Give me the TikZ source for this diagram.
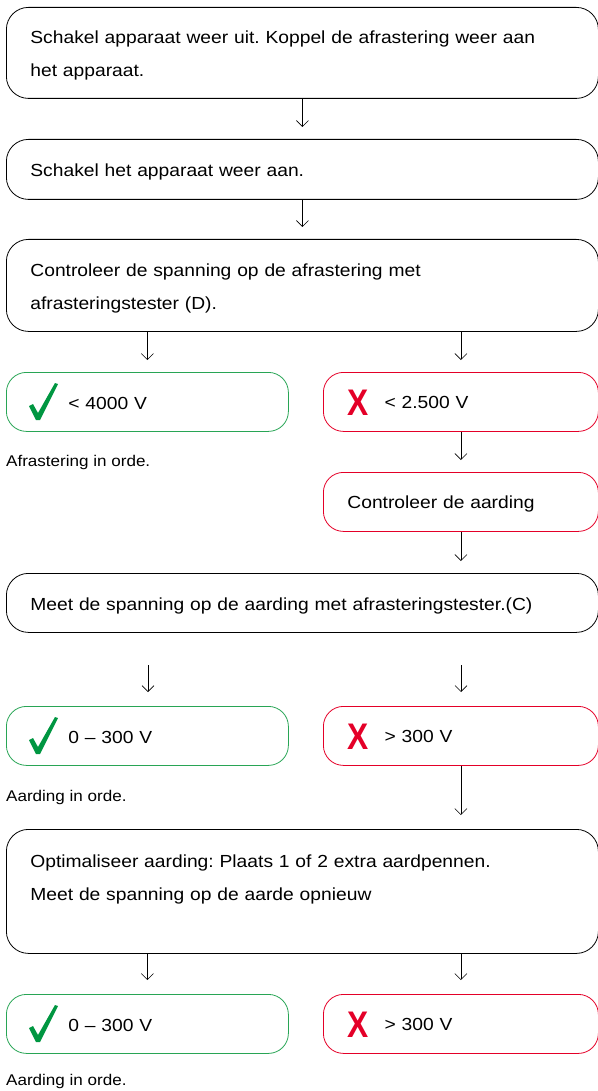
\documentclass[tikz,border=0pt]{standalone}
\usepackage{fontspec}
\setmainfont{Liberation Sans}[FakeStretch=1.1]
\usetikzlibrary{arrows.meta}
\definecolor{okgroen}{RGB}{40,165,85}
\definecolor{vinkgroen}{RGB}{0,150,65}
\definecolor{nokrood}{RGB}{228,0,40}
\frenchspacing
% vinkje in een groene uitkomst
\newcommand{\vink}[1]{\fill[vinkgroen,shift={(#1.north west)}] (23,34) -- (27,32) -- (32,41) -- (49,11) -- (52,12) -- (34,48) -- (30,48) -- cycle;}
\newcommand{\kruis}{\rule{0pt}{21pt}\raisebox{-7pt}{\color{nokrood}\fontsize{37}{37}\selectfont\bfseries\scalebox{0.78}[1]{X}}\hspace{16pt}}
\begin{document}
\begin{tikzpicture}[x=1pt,y=-1pt,
  stap/.style={draw,line width=0.8pt,rounded corners=22pt,anchor=north west,align=left,
    text width=544pt,inner xsep=24pt,inner ysep=0pt,font=\fontsize{17.5}{33}\selectfont,
    execute at begin node={\rule{0pt}{18.5pt}}},
  okbox/.style={draw=okgroen,line width=0.8pt,rounded corners=20pt,anchor=north west,align=left,
    text width=158pt,inner xsep=62pt,inner ysep=0pt,minimum height=59pt,font=\fontsize{17.5}{20}\selectfont,
    execute at begin node={\rule{0pt}{15pt}}},
  nokbox/.style={draw=nokrood,line width=0.8pt,rounded corners=20pt,anchor=north west,align=left,
    text width=227pt,inner xsep=24pt,inner ysep=0pt,minimum height=59pt,font=\fontsize{17.5}{20}\selectfont,
    execute at begin node={\rule{0pt}{16.5pt}}},
  pijl/.style={-{Straight Barb[length=6pt,width=12pt]},line width=0.6pt,shorten >=12pt},
  notitie/.style={anchor=west,inner sep=0pt,font=\fontsize{15.5}{17}\selectfont}]
\useasboundingbox (0,0) rectangle (597,1091);

\node[stap,minimum height=91pt] (uit) at (6,7) {Schakel apparaat weer uit. Koppel de afrastering weer aan\\het apparaat.};
\node[stap,minimum height=60pt] (aan) at (6,139) {Schakel het apparaat weer aan.};
\node[stap,minimum height=92pt] (meet1) at (6,239) {Controleer de spanning op de afrastering met\\afrasteringstester (D).};

\node[okbox] (ok1) at (6,372) {< 4000 V};
\node[nokbox] (nok1) at (323,372) {\kruis< 2.500 V};
\node[notitie] (orde1) at (6,462) {Afrastering in orde.};
\node[nokbox] (aarde) at (323,472) {Controleer de aarding};

\node[stap,minimum height=59pt] (meet2) at (6,573) {Meet de spanning op de aarding met afrasteringstester.(C)};
\coordinate (los1) at (148,665);
\coordinate (los2) at (461,665);

\node[okbox] (ok2) at (6,706) {0 -- 300 V};
\node[nokbox] (nok2) at (323,706) {\kruis> 300 V};
\node[notitie] (orde2) at (6,797) {Aarding in orde.};

\node[stap,minimum height=124pt] (optim) at (6,829) {Optimaliseer aarding: Plaats 1 of 2 extra aardpennen.\\Meet de spanning op de aarde opnieuw\\\mbox{}};

\node[okbox] (ok3) at (6,994) {0 -- 300 V};
\node[nokbox] (nok3) at (323,994) {\kruis> 300 V};
\node[notitie] (orde3) at (6,1081) {Aarding in orde.};

\vink{ok1}
\vink{ok2}
\vink{ok3}

% pijlen
\draw[pijl] (uit.south -| aan.north) -- (aan.north);
\draw[pijl] (aan.south) -- (meet1.north);
\draw[pijl] (ok1.north |- meet1.south) -- (ok1.north);
\draw[pijl] (nok1.north |- meet1.south) -- (nok1.north);
\draw[pijl] (nok1.south) -- (aarde.north);
\draw[pijl] (aarde.south) -- (aarde.south |- meet2.north);
\draw[pijl,shorten >=14pt] (los1) -- (los1 |- ok2.north);
\draw[pijl,shorten >=14pt] (los2) -- (los2 |- nok2.north);
\draw[pijl,shorten >=14pt] (nok2.south) -- (nok2.south |- optim.north);
\draw[pijl,shorten >=14pt] (ok3.north |- optim.south) -- (ok3.north);
\draw[pijl,shorten >=14pt] (nok3.north |- optim.south) -- (nok3.north);
\end{tikzpicture}
\end{document}
